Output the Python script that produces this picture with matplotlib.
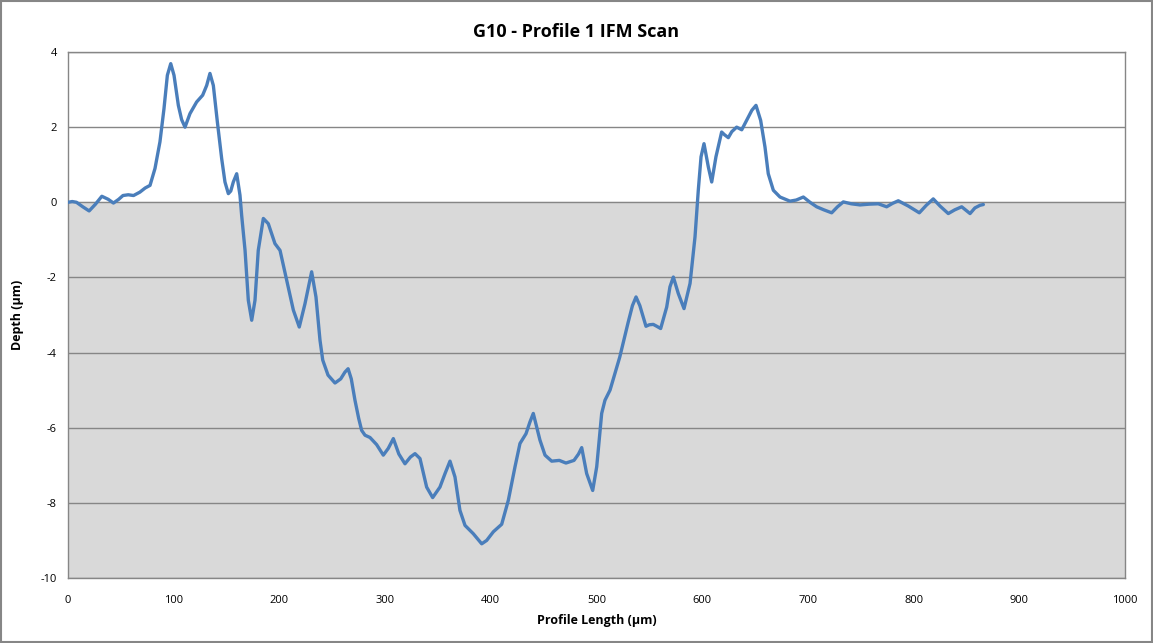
import matplotlib.pyplot as plt
from matplotlib.patches import Rectangle

# profile length (um) and depth (um)
length = [0, 4, 8, 14, 20, 26, 32, 38, 43, 48, 52, 57, 62, 68, 73, 77.6, 82.3, 87,
          90.8, 94, 97.2, 100.3, 104.4, 107.5, 110.7, 115.4, 121.7, 127.4, 131.2,
          134.3, 137.5, 141.3, 145.4, 148.5, 151.7, 154, 156.4, 159.6, 162.7, 164.3,
          167.5, 170.6, 173.8, 176.9, 180, 184.8, 189.5, 195.8, 200.6, 206.9, 213.2,
          218.8, 224.2, 230.5, 234.6, 238.4, 241, 246, 252.6, 258, 262, 265, 268,
          271.5, 275, 277.8, 281, 285.7, 292, 298.3, 303, 307.8, 313, 318.8, 324,
          328.3, 333, 339.3, 345, 351.9, 356.7, 361.4, 366.1, 370.8, 375.6, 383.4,
          391.4, 396.1, 402.4, 410.3, 416.6, 422.9, 427.6, 433.3, 437, 440.2, 446.5,
          451.3, 457.6, 464.8, 471.1, 478.7, 483, 486, 490.7, 496.4, 500.2, 504.9,
          508, 512.8, 517, 522, 526, 530, 534, 537.4, 541, 546.8, 550, 553.7, 557,
          560.7, 566.4, 569.5, 572.7, 577.4, 582.8, 588.5, 593.2, 596.3, 598.9,
          601.7, 605.8, 609, 613, 618.4, 621, 624.7, 628, 632.6, 637.4, 643.6, 647,
          650.9, 655.3, 659.4, 662.5, 667.3, 673.6, 683, 689, 695.7, 702, 708.3, 715,
          722.5, 728, 733.5, 741, 749.3, 758, 766.6, 774.5, 780, 785.5, 795, 805.4,
          812, 818.6, 825, 832.8, 839, 845.5, 853.4, 858, 862.8, 866]
depth = [0.0, 0.02, 0.0, -0.12, -0.23, -0.05, 0.16, 0.08, -0.02, 0.08, 0.18, 0.2,
         0.18, 0.27, 0.38, 0.45, 0.9, 1.61, 2.49, 3.38, 3.69, 3.38, 2.58, 2.2, 2.0,
         2.36, 2.67, 2.85, 3.11, 3.43, 3.11, 2.14, 1.16, 0.54, 0.23, 0.3, 0.54, 0.76,
         0.19, -0.35, -1.28, -2.61, -3.14, -2.61, -1.28, -0.43, -0.57, -1.1, -1.28,
         -2.08, -2.87, -3.32, -2.7, -1.85, -2.52, -3.67, -4.2, -4.6, -4.81, -4.7,
         -4.52, -4.43, -4.7, -5.27, -5.75, -6.07, -6.2, -6.26, -6.45, -6.73, -6.55,
         -6.29, -6.7, -6.96, -6.78, -6.69, -6.82, -7.58, -7.86, -7.58, -7.22, -6.89,
         -7.31, -8.2, -8.6, -8.82, -9.09, -9.0, -8.77, -8.57, -7.93, -7.04, -6.42,
         -6.16, -5.85, -5.62, -6.33, -6.73, -6.89, -6.87, -6.94, -6.87, -6.7, -6.53,
         -7.22, -7.67, -7.04, -5.62, -5.27, -5.0, -4.6, -4.12, -3.65, -3.19, -2.75,
         -2.52, -2.75, -3.3, -3.26, -3.25, -3.3, -3.36, -2.79, -2.25, -1.99, -2.43,
         -2.83, -2.16, -0.92, 0.32, 1.21, 1.56, 0.94, 0.54, 1.21, 1.87, 1.8, 1.72,
         1.88, 2.0, 1.93, 2.27, 2.45, 2.58, 2.18, 1.47, 0.76, 0.32, 0.14, 0.03, 0.06,
         0.14, 0.0, -0.12, -0.2, -0.28, -0.12, 0.01, -0.04, -0.07, -0.05, -0.04,
         -0.12, -0.03, 0.04, -0.1, -0.28, -0.08, 0.09, -0.1, -0.3, -0.2, -0.12, -0.3,
         -0.15, -0.08, -0.06]

x_ticks = [0, 100, 200, 300, 400, 500, 600, 700, 800, 900, 1000]
y_ticks = [4, 2, 0, -2, -4, -6, -8, -10]

plt.rcParams['font.family'] = ['Open Sans', 'DejaVu Sans']
plt.rcParams['axes.unicode_minus'] = False

grey = '#868686'
fig = plt.figure(figsize=(11.53, 6.43), dpi=100)
fig.patches.append(Rectangle((0.001, 0.001), 0.998, 0.997, transform=fig.transFigure,
                             fill=False, edgecolor=grey, linewidth=1.5))
ax = fig.add_axes([68 / 1153, 65 / 643, (1125 - 68) / 1153, (578 - 52) / 643])

# shaded band below the surface line
ax.axhspan(-10, 0, color='#d9d9d9', zorder=0)
for yv in y_ticks:
    ax.axhline(yv, color=grey, linewidth=1, zorder=1)

ax.plot(length, depth, color='#4a7ebb', linewidth=2.4, solid_joinstyle='round',
        solid_capstyle='round', zorder=3)

ax.set_xlim(0, 1000)
ax.set_ylim(-10, 4)
ax.set_xticks(x_ticks)
ax.set_yticks(y_ticks)
ax.tick_params(axis='both', length=0, labelsize=8)
ax.tick_params(axis='x', pad=12)
ax.tick_params(axis='y', pad=8)
for s in ax.spines.values():
    s.set_color(grey)
    s.set_linewidth(1)

ax.set_xlabel('Profile Length (µm)', fontsize=9, fontweight='bold', labelpad=6)
ax.set_ylabel('Depth (µm)', fontsize=9, fontweight='bold', labelpad=12)
fig.suptitle('G10 - Profile 1 IFM Scan', fontsize=13, fontweight='bold', y=0.965)

fig.savefig('out.png', dpi=100)
